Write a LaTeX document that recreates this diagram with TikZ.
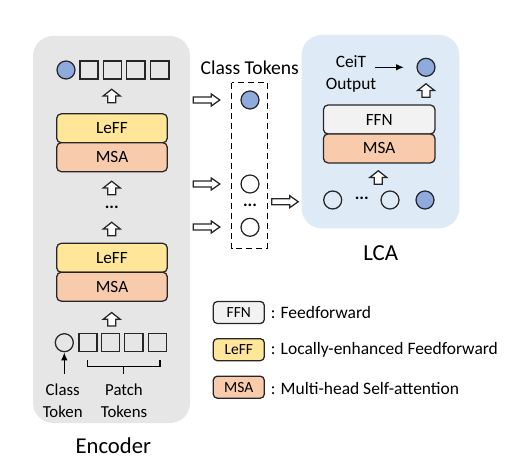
\documentclass[tikz,border=0pt]{standalone}
\usepackage{fontspec}
\setmainfont{Carlito}
\usetikzlibrary{arrows.meta}
\newcommand\myfs[2]{\fontsize{#1}{#2}\selectfont}
\definecolor{encbg}{HTML}{E6E6E6}
\definecolor{lcabg}{HTML}{DEEBF7}
\definecolor{leffc}{HTML}{FFE699}
\definecolor{msac}{HTML}{F8CBAD}
\definecolor{ffnc}{HTML}{F2F2F2}
\definecolor{tokb}{HTML}{8FAADC}
\definecolor{edge}{HTML}{262626}
\begin{document}
\begin{tikzpicture}[x=0.75pt,y=-0.75pt,
  bg/.style={rounded corners=15pt},
  layer/.style={draw=edge,line width=0.95pt,rounded corners=3.5pt,minimum width=83pt,minimum height=21.75pt,inner sep=0pt,font=\myfs{12.9}{15}},
  lcalayer/.style={layer,minimum width=83.7pt},
  legbox/.style={draw=edge,line width=0.95pt,rounded corners=3pt,minimum width=38.25pt,minimum height=16.5pt,inner sep=0pt,font=\myfs{11.6}{13}},
  legtxt/.style={anchor=west,inner sep=0pt,font=\myfs{13.1}{15}},
  tokc/.style={circle,draw=edge,line width=0.95pt,minimum size=13.5pt,inner sep=0pt},
  tokfill/.style={tokc,fill=tokb},
  toks/.style={rectangle,draw=edge,line width=0.95pt,minimum size=13.6pt,inner sep=0pt},
  lbl/.style={inner sep=0pt,align=center,font=\myfs{12.6}{16.3}},
  dotsn/.style={inner sep=0pt,font=\myfs{13}{15}\bfseries},
  uparr/.pic={\draw[edge,line width=0.95pt,fill=white,line join=miter] (-4,6.75) -- (4,6.75) -- (4,0) -- (8.5,0) -- (0,-6.75) -- (-8.5,0) -- (-4,0) -- cycle;},
  rarr/.pic={\draw[edge,line width=0.95pt,fill=white,line join=miter] (0,-3) -- (18,-3) -- (18,-6) -- (26.5,0) -- (18,6) -- (18,3) -- (0,3) -- cycle;},
  solidarr/.style={-{Latex[length=6pt,width=5pt]},line width=1.1pt,black}
]
\useasboundingbox (0,0) rectangle (528,463);
% backgrounds
\fill[encbg,bg] (33,36) rectangle (190,423);
\fill[lcabg,bg] (301.7,35) rectangle (459.3,228.3);

% ---- Encoder ----
\node[tokfill] (ec0) at (66,70) {};
\node[toks] (es1) at (89,70) {};
\node[toks] (es2) at (112.2,70) {};
\node[toks] (es3) at (135.8,70) {};
\node[toks] (es4) at (159.9,70) {};
\pic at (111.7,96) {uparr};
\node[layer,fill=leffc] (leff1) at (112,128.3) {LeFF};
\node[layer,fill=msac] (msa1) at (112,157.2) {MSA};
\pic at (111.7,188) {uparr};
\node[dotsn] (edots) at (111.7,207) {...};
\pic at (111.7,229) {uparr};
\node[layer,fill=leffc] (leff2) at (112,257.8) {LeFF};
\node[layer,fill=msac] (msa2) at (112,286.7) {MSA};
\pic at (111.7,319.3) {uparr};
\node[tokc] (bc0) at (64.3,342.7) {};
\node[toks] (bs1) at (88,342.2) {};
\node[toks] (bs2) at (110.5,342.2) {};
\node[toks] (bs3) at (133.8,342.2) {};
\node[toks] (bs4) at (157.5,342.2) {};
\coordinate (ctail) at (64.3,374);
\draw[solidarr] (ctail) -- (bc0.south);
\coordinate (brl) at (87.3,360);
\coordinate (brr) at (160,360);
\coordinate (brm) at (123.7,374);
\draw[line width=1.1pt,line join=miter] (brl) -- (87.3,366.7) -- (160,366.7) -- (brr);
\draw[line width=1.1pt] (123.7,366.7) -- (brm);
\node[lbl] (clsl) at (62.7,401) {Class\\Token};
\node[lbl] (patl) at (124,401) {Patch\\Tokens};
\node[inner sep=0pt,font=\myfs{17}{20}] (encl) at (113.3,446) {Encoder};

% ---- Class tokens ----
\node[inner sep=0pt,font=\myfs{14.7}{17}] (ctl) at (249.7,68) {Class Tokens};
\draw[line width=1.1pt,dash pattern=on 4.5pt off 3pt] (231.7,82.7) rectangle (267.3,248.3);
\node[tokfill] (ct1) at (250,100) {};
\node[tokc] (ct2) at (250,184) {};
\node[dotsn] (ctdots) at (250,205.5) {...};
\node[tokc] (ct3) at (250,227.3) {};
\pic at (193.3,100) {rarr};
\pic at (193.3,184) {rarr};
\pic at (193.3,227) {rarr};
\pic at (271.7,201.7) {rarr};

% ---- LCA ----
\node[lbl,font=\myfs{13}{16.3}] (ceit) at (351,74) {CeiT\\Output};
\node[tokfill] (lout) at (426,67.3) {};
\coordinate (ceitarr) at (375,67.3);
\coordinate (ceittip) at (404,67.3);
\draw[solidarr] (ceitarr) -- (ceittip);
\pic at (426,90.5) {uparr};
\node[lcalayer,fill=ffnc] (ffn) at (379.2,119.5) {FFN};
\node[lcalayer,fill=msac] (lmsa) at (379.2,148.4) {MSA};
\pic at (378.3,177.5) {uparr};
\node[tokc] (lc1) at (332.7,200) {};
\node[dotsn] (ldots) at (361.7,198.5) {...};
\node[tokc] (lc2) at (390,200) {};
\node[tokfill] (lc3) at (425,200) {};
\node[inner sep=0pt,font=\myfs{17.2}{20}] (lcal) at (380.7,253) {LCA};

% ---- Legend ----
\node[legbox,fill=ffnc] (lg1) at (238.8,312.5) {FFN};
\node[legtxt] (lt1) at (270.5,312.7) {: Feedforward};
\node[legbox,fill=leffc] (lg2) at (238.8,349.7) {LeFF};
\node[legtxt] (lt2) at (270.5,350) {: Locally-enhanced Feedforward};
\node[legbox,fill=msac] (lg3) at (238.8,387.2) {MSA};
\node[legtxt] (lt3) at (270.5,388.3) {: Multi-head Self-attention};
\end{tikzpicture}
\end{document}
